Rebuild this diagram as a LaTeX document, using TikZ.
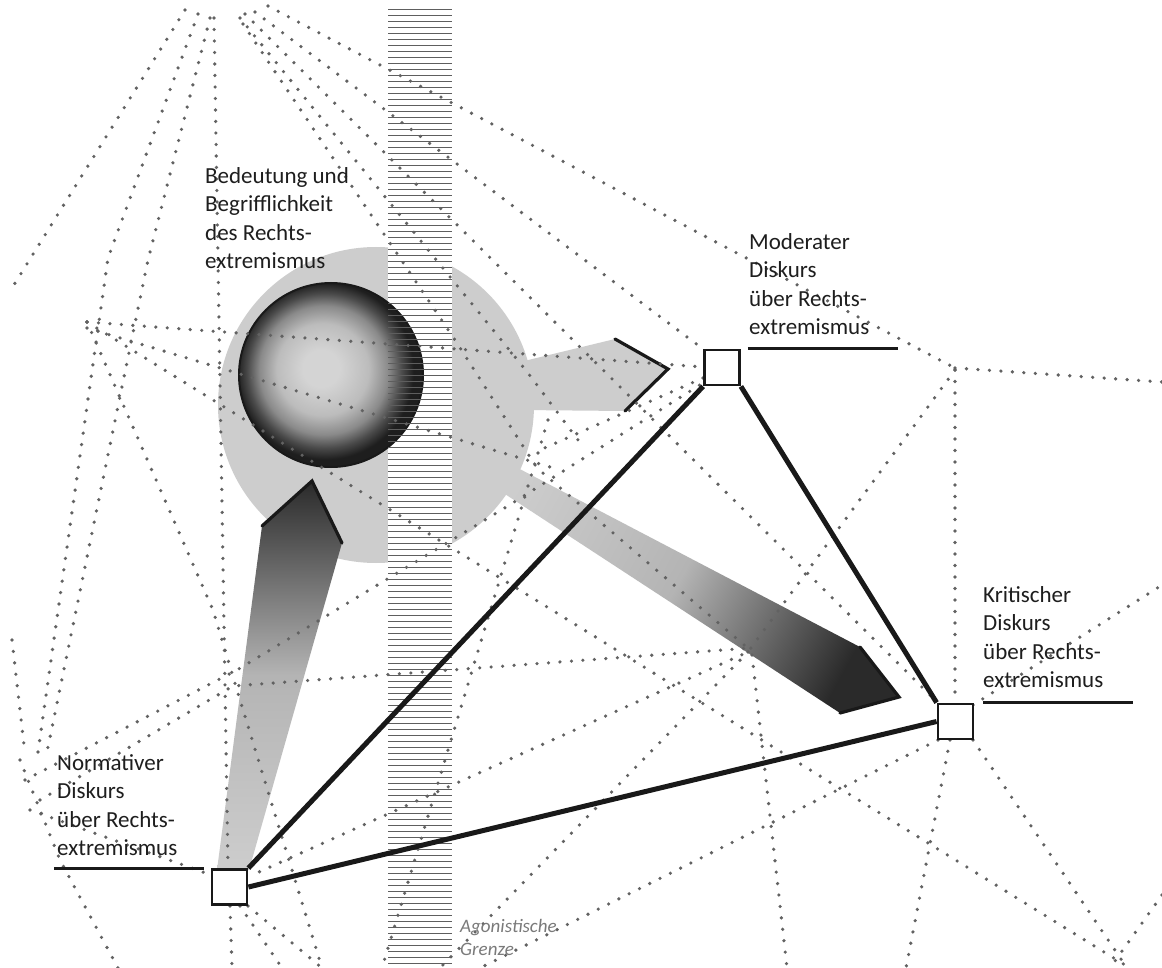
\documentclass[tikz,border=0pt]{standalone}
\usepackage{fontspec}
\setmainfont{Carlito}
\definecolor{circgray}{HTML}{CDCDCD}
\definecolor{dotgray}{HTML}{626262}
\definecolor{stripegray}{HTML}{5E5E5E}
\definecolor{headdark}{HTML}{2A2A2A}
\definecolor{midgray}{HTML}{B4B4B4}
\definecolor{txt}{HTML}{1E1E1E}
\definecolor{agon}{HTML}{7A7A7A}
\definecolor{sphA}{HTML}{D4D4D4}
\definecolor{sphB}{HTML}{BCBCBC}
\definecolor{sphC}{HTML}{8A8A8A}
\definecolor{sphD}{HTML}{4A4A4A}
\definecolor{sphE}{HTML}{1E1E1E}
\pgfdeclareradialshading{sphsh}{\pgfpoint{-3bp}{2bp}}{color(0bp)=(sphA); color(5bp)=(sphA); color(12.5bp)=(sphB); color(17.5bp)=(sphC); color(21bp)=(sphD); color(24bp)=(sphE); color(25bp)=(sphE); color(50bp)=(sphE)}
\begin{document}
\begin{tikzpicture}[x=1pt,y=-1pt,
  dotline/.style={draw=dotgray,line width=3.6pt,line cap=round,dash pattern=on 0pt off 11.5pt},
  stripe/.style={draw=stripegray,line width=0.9pt},
  edgeline/.style={draw=black!90,line width=5pt},
  uline/.style={draw=black!90,line width=2.8pt},
  headedge/.style={draw=black!90,line width=3.2pt,line cap=round,line join=miter},
  disc/.style={draw=black!90,line width=2.8pt,fill=white,minimum size=35pt,inner sep=0pt,rectangle},
  lbl/.style={anchor=north west,inner sep=0pt,align=left,text=txt,font=\fontsize{23pt}{28.5pt}\selectfont},
  agl/.style={anchor=north west,inner sep=0pt,align=left,text=agon,font=\fontsize{19pt}{23pt}\selectfont\itshape},
]
\useasboundingbox (0,0) rectangle (1162,968);
\fill[white] (0,0) rectangle (1162,968);

% arrow towards the critical discourse (below the circle)
\shade[top color=headdark, bottom color=circgray, middle color=midgray, shading angle=-118.7]
  (470,443) -- (860,647) -- (899,697) -- (840,713) -- (462,466) -- cycle;
% arrow towards the moderate discourse
\fill[circgray] (520,362) -- (615,339) -- (668,369) -- (625,411) -- (520,410) -- cycle;
% big circle
\fill[circgray] (376,405) circle[radius=158pt];
% agonistic border (white band)
\fill[white] (388,4) rectangle (452,968);
% sphere
\shade[shading=sphsh] (331,375) circle[radius=92pt];
\draw[line width=2pt,black!90] (331,375) circle[radius=92pt];
% stripes
\foreach \yy in {9,15,...,966} \draw[stripe] (388,\yy) -- (452,\yy);
% arrow from normative discourse
\shade[top color=headdark, bottom color=circgray, middle color=midgray]
  (217,870) -- (262,526) -- (312,481) -- (342,543) -- (249,870) -- cycle;
\draw[headedge] (262,526) -- (312,481) -- (342,543);
\draw[headedge] (615,339) -- (668,369) -- (625,411);
\draw[headedge] (860,647) -- (899,697) -- (840,713);

% dotted network
\draw[dotline] (185,10) -- (12,288);
\draw[dotline] (198,14) -- (108,258) -- (38,752);
\draw[dotline] (210,18) -- (148,260) -- (47,752);
\draw[dotline] (214,18) -- (228,868);
\draw[dotline] (268,6) -- (955,368);
\draw[dotline] (255,12) -- (703,349);
\draw[dotline] (245,14) -- (938,703);
\draw[dotline] (243,24) -- (455,340) -- (537,468) -- (750,650);
\draw[dotline] (240,18) -- (528,373) -- (578,440);
\draw[dotline] (955,368) -- (1162,382);
\draw[dotline] (955,370) -- (955,703);
\draw[dotline] (955,370) -- (748,652) -- (250,876);
\draw[dotline] (938,740) -- (480,968);
\draw[dotline] (950,740) -- (906,968);
\draw[dotline] (973,740) -- (1127,968);
\draw[dotline] (87,322) -- (1125,965);
\draw[dotline] (87,322) -- (703,367);
\draw[dotline] (87,328) -- (560,470);
\draw[dotline] (87,322) -- (213,610) -- (240,700) -- (322,968);
\draw[dotline] (40,800) -- (233,686) -- (750,648);
\draw[dotline] (25,780) -- (237,670) -- (503,509) -- (703,383);
\draw[dotline] (548,420) -- (382,968);
\draw[dotline] (748,652) -- (440,968);
\draw[dotline] (752,655) -- (787,968);
\draw[dotline] (973,705) -- (1162,585);
\draw[dotline] (1162,895) -- (1110,968);
\draw[dotline] (12,640) -- (24,745);
\draw[dotline] (20,760) -- (60,860) -- (118,968);
\draw[dotline] (30,810) -- (211,875);
\draw[dotline] (230,906) -- (232,968);
\draw[dotline] (248,906) -- (322,968);
\draw[dotline] (240,906) -- (282,968);
\draw[dotline] (703,378) -- (540,450);

% discourse nodes
\node[disc] (mod)  at (722,367.5) {};
\node[disc] (krit) at (955.5,721.5) {};
\node[disc] (norm) at (229.5,887) {};

\draw[edgeline] (norm.north east) -- (mod.south west);
\draw[edgeline] (mod.south east) -- (krit.north west);
\draw[edgeline] (norm.east) -- (krit.west);

\draw[uline] ([xshift=7pt]mod.north east) -- ++(150,0);
\draw[uline] ([xshift=9pt]krit.north east) -- ++(150,0);
\draw[uline] ([xshift=-7pt]norm.north west) -- ++(-150,0);

% labels
\node[lbl] (bed) at (205,163) {\rule{0pt}{20pt}Bedeutung und\\Begrifflichkeit\\des Rechts-\\extremismus};
\node[lbl] (modl) at (749,229) {\rule{0pt}{20pt}Moderater\\Diskurs\\über Rechts-\\extremismus};
\node[lbl] (kritl) at (983,582) {\rule{0pt}{20pt}Kritischer\\Diskurs\\über Rechts-\\extremismus};
\node[lbl] (norml) at (57,750) {\rule{0pt}{20pt}Normativer\\Diskurs\\über Rechts-\\extremismus};
\node[agl] (agon) at (460,915) {\rule{0pt}{17pt}Agonistische\\Grenze};
\end{tikzpicture}
\end{document}
